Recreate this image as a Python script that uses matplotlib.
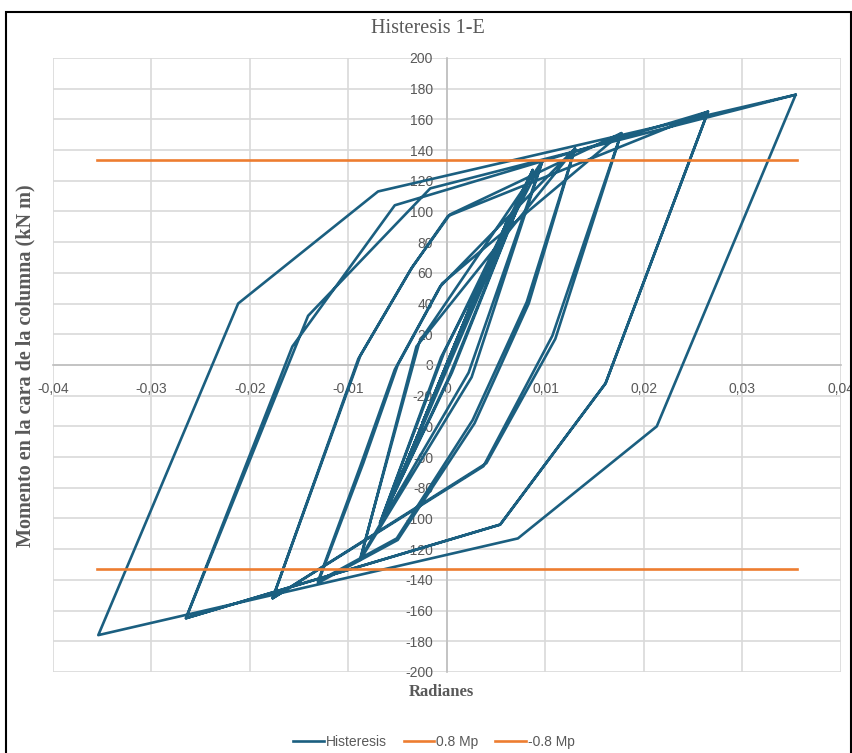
import matplotlib
matplotlib.use("Agg")
import matplotlib.pyplot as plt
from matplotlib.ticker import FuncFormatter, MultipleLocator
from matplotlib import font_manager

# rotacion (rad) y momento (kN m)
rot = [0, 0.0025, -0.0025, 0.0025, -0.0025,
       0.0042, -0.0040, 0.0042, -0.0040,
       0.0062, -0.0057, 0.0062, -0.0057,
       0.0087, 0.0005, -0.0068, -0.0003, 0.0087, 0.0002, -0.0068, -0.0006,
       0.0097, 0.0022, -0.0088, -0.0028, 0.0097, 0.0025, -0.0088, -0.0031,
       0.0130, 0.0081, 0.0026, -0.0051, -0.0131, -0.0088, -0.0053, -0.0007,
       0.0130, 0.0083, 0.0028, -0.0050, -0.0131, -0.0085, -0.0050, -0.0005,
       0.0177, 0.0107, 0.0037, -0.0177, -0.0088, -0.0035, 0.0003,
       0.0177, 0.0110, 0.0040, -0.0177, -0.0090, -0.0037, 0.0001,
       0.0265, 0.0161, 0.0054, -0.0265, -0.0157, -0.0053,
       0.0265, 0.0161, 0.0054, -0.0265, -0.0141, -0.0017,
       0.0354, 0.0213, 0.0072, -0.0354, -0.0212, -0.0070, 0.0354]
mom = [0, 40, -38, 40, -38,
       66, -62, 66, -62,
       95, -88, 95, -88,
       127, -5, -103, 8, 127, -8, -103, 5,
       133, -5, -126, 15, 133, -8, -127, 12,
       141, 41, -36, -113, -141, -66, -3, 51,
       141, 40, -38, -114, -142, -64, 0, 53,
       151, 19, -66, -152, 6, 64, 98,
       151, 17, -64, -152, 4, 62, 97,
       165, -12, -104, -165, 12, 104,
       165, -12, -104, -165, 32, 115,
       176, -40, -113, -176, 40, 113, 176]

mp_x = [-0.0355, 0.0355]
mp_pos = [133.2, 133.2]
mp_neg = [-133.2, -133.2]

azul = "#1b5f80"
naranja = "#ed7d31"
gris = "#595959"

# fuente estrecha si existe
instaladas = {f.name for f in font_manager.fontManager.ttflist}
sans = [f for f in ["Liberation Sans Narrow", "DejaVu Sans Condensed", "Liberation Sans"]
        if f in instaladas] or ["DejaVu Sans"]
sans = sans[:1] + ["DejaVu Sans"]
serif = ["Liberation Serif", "DejaVu Serif"]
num_size = 11 if sans[0] != "Liberation Sans" else 10

fig = plt.figure(figsize=(8.53, 7.53), dpi=100)
ax = fig.add_axes([0.0621, 0.1076, 0.9238, 0.8155])

ax.plot(rot, mom, color=azul, lw=1.9, label="Histeresis", zorder=3)
ax.plot(mp_x, mp_pos, color=naranja, lw=1.9, label="0.8 Mp", zorder=4)
ax.plot(mp_x, mp_neg, color=naranja, lw=1.9, label="-0.8 Mp", zorder=4)

ax.set_xlim(-0.04, 0.04)
ax.set_ylim(-200, 200)
ax.xaxis.set_major_locator(MultipleLocator(0.01))
ax.yaxis.set_major_locator(MultipleLocator(20))

def fmt_x(v, pos):
    if abs(v) < 1e-9:
        return "0"
    return f"{v:.2f}".replace(".", ",")

ax.xaxis.set_major_formatter(FuncFormatter(fmt_x))
ax.yaxis.set_major_formatter(FuncFormatter(lambda v, p: f"{v:.0f}"))

ax.grid(True, color="#d9d9d9", lw=1.2, zorder=0)
ax.set_axisbelow(True)
for s in ["top", "right"]:
    ax.spines[s].set_visible(False)
ax.spines["left"].set_position(("data", 0))
ax.spines["bottom"].set_position(("data", 0))
for s in ["left", "bottom"]:
    ax.spines[s].set_color("#bfbfbf")
    ax.spines[s].set_linewidth(1.2)
ax.tick_params(length=0, labelsize=num_size, labelcolor=gris)
ax.tick_params(axis="x", pad=12)
ax.tick_params(axis="y", pad=10)
for lab in ax.get_xticklabels() + ax.get_yticklabels():
    lab.set_family(sans)

fig.text(0.502, 0.962, "Histeresis 1-E", ha="center", va="center",
         fontsize=14.5, color=gris, family=serif)
fig.text(0.517, 0.081, "Radianes", ha="center", va="center",
         fontsize=12, fontweight="bold", color=gris, family=serif)
fig.text(0.03, 0.514, "Momento en la cara de la columna (kN m)", ha="center",
         va="center", rotation=90, fontsize=14.5, fontweight="bold",
         color=gris, family=serif)

fig.legend(loc="center", bbox_to_anchor=(0.509, 0.015), ncol=3, frameon=False,
           prop={"family": sans, "size": num_size}, labelcolor=gris,
           handlelength=2.2, handletextpad=0.15, columnspacing=1.2)

borde = plt.Rectangle((0.007, -0.05), 0.991, 1.034, transform=fig.transFigure,
                      fill=False, edgecolor="black", lw=1.5)
fig.add_artist(borde)

fig.savefig("out.png", dpi=100, facecolor="white")
